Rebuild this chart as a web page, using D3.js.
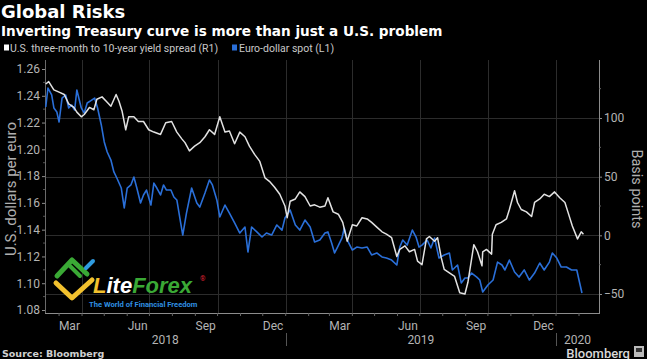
<!DOCTYPE html>
<html><head><meta charset="utf-8">
<script src="https://cdn.jsdelivr.net/npm/d3@7"></script>
<style>
html,body{margin:0;padding:0;background:#000;}
svg{display:block;}
</style></head>
<body>
<script>
// ---------- DATA ----------
const spreadSeries = [["2018-02-11",129],["2018-02-15",131],["2018-02-22",124],["2018-03-01",122],["2018-03-08",120],["2018-03-14",112],["2018-03-21",109],["2018-03-25",105],["2018-03-31",101],["2018-04-04",103],["2018-04-11",109],["2018-04-17",107],["2018-04-21",116],["2018-04-28",118],["2018-05-04",114],["2018-05-10",110],["2018-05-17",120],["2018-05-21",114],["2018-05-25",106],["2018-05-30",90],["2018-06-03",101],["2018-06-10",101],["2018-06-16",97],["2018-06-23",97],["2018-06-30",90],["2018-07-07",88],["2018-07-16",86],["2018-07-23",96],["2018-07-31",97],["2018-08-07",88],["2018-08-14",82],["2018-08-18",79],["2018-08-24",72],["2018-08-31",76],["2018-09-07",79],["2018-09-14",84],["2018-09-20",90],["2018-09-27",86],["2018-10-04",101],["2018-10-11",88],["2018-10-17",89],["2018-10-24",78],["2018-10-31",88],["2018-11-07",84],["2018-11-13",76],["2018-11-20",69],["2018-11-27",63],["2018-12-04",49],["2018-12-10",46],["2018-12-17",41],["2018-12-24",35],["2018-12-31",25],["2019-01-03",15],["2019-01-07",29],["2019-01-14",31],["2019-01-20",37],["2019-01-27",33],["2019-02-03",25],["2019-02-09",26],["2019-02-16",24],["2019-02-23",25],["2019-02-27",32],["2019-03-06",20],["2019-03-13",18],["2019-03-19",11],["2019-03-25",-5],["2019-04-01",9],["2019-04-07",8],["2019-04-14",15],["2019-04-21",14],["2019-04-27",11],["2019-05-04",7],["2019-05-11",3],["2019-05-17",1],["2019-05-24",-2],["2019-05-31",-18],["2019-06-04",-12],["2019-06-11",-9],["2019-06-17",-14],["2019-06-24",-12],["2019-06-28",-22],["2019-07-04",-25],["2019-07-10",-3],["2019-07-14",-1],["2019-07-21",-5],["2019-07-25",-2],["2019-07-30",-19],["2019-08-03",-29],["2019-08-10",-32],["2019-08-17",-35],["2019-08-24",-49],["2019-08-31",-50],["2019-09-04",-40],["2019-09-09",-20],["2019-09-12",-8],["2019-09-17",-14],["2019-09-23",-26],["2019-09-24",-14],["2019-09-29",-12],["2019-10-06",-16],["2019-10-07",1],["2019-10-12",9],["2019-10-19",11],["2019-10-26",14],["2019-10-30",22],["2019-11-06",38],["2019-11-10",28],["2019-11-15",22],["2019-11-22",20],["2019-11-29",16],["2019-12-03",28],["2019-12-10",31],["2019-12-16",35],["2019-12-23",33],["2019-12-30",37],["2020-01-06",32],["2020-01-13",28],["2020-01-17",20],["2020-01-23",8],["2020-01-30",-3],["2020-02-04",3],["2020-02-07",1]];

const eurusdSeries = [["2018-02-11",1.2316],["2018-02-14",1.2458],["2018-02-19",1.2406],["2018-02-22",1.2309],["2018-02-26",1.2279],["2018-03-01",1.2204],["2018-03-05",1.2383],["2018-03-10",1.2406],["2018-03-14",1.2309],["2018-03-18",1.2331],["2018-03-22",1.2294],["2018-03-25",1.2443],["2018-03-31",1.2309],["2018-04-04",1.2271],["2018-04-08",1.2346],["2018-04-14",1.2368],["2018-04-18",1.2383],["2018-04-22",1.2309],["2018-04-27",1.2182],["2018-05-01",1.2055],["2018-05-05",1.1980],["2018-05-10",1.1920],["2018-05-14",1.1831],["2018-05-18",1.1786],["2018-05-24",1.1711],["2018-05-28",1.1562],["2018-06-01",1.1711],["2018-06-06",1.1734],["2018-06-10",1.1793],["2018-06-14",1.1711],["2018-06-19",1.1599],["2018-06-23",1.1659],["2018-06-27",1.1696],["2018-07-03",1.1584],["2018-07-07",1.1748],["2018-07-11",1.1711],["2018-07-16",1.1659],["2018-07-20",1.1734],["2018-07-24",1.1696],["2018-07-30",1.1696],["2018-08-03",1.1644],["2018-08-07",1.1622],["2018-08-12",1.1457],["2018-08-15",1.1360],["2018-08-20",1.1524],["2018-08-27",1.1711],["2018-09-03",1.1599],["2018-09-07",1.1569],["2018-09-14",1.1674],["2018-09-20",1.1771],["2018-09-24",1.1734],["2018-09-30",1.1622],["2018-10-04",1.1495],["2018-10-11",1.1584],["2018-10-17",1.1524],["2018-10-24",1.1450],["2018-10-31",1.1375],["2018-11-07",1.1420],["2018-11-11",1.1233],["2018-11-16",1.1420],["2018-11-23",1.1383],["2018-11-30",1.1345],["2018-12-06",1.1375],["2018-12-13",1.1360],["2018-12-20",1.1435],["2018-12-27",1.1397],["2018-12-31",1.1487],["2019-01-07",1.1547],["2019-01-14",1.1435],["2019-01-20",1.1397],["2019-01-27",1.1472],["2019-02-03",1.1420],["2019-02-09",1.1308],["2019-02-16",1.1323],["2019-02-23",1.1375],["2019-02-27",1.1383],["2019-03-04",1.1300],["2019-03-08",1.1226],["2019-03-12",1.1270],["2019-03-18",1.1338],["2019-03-21",1.1412],["2019-03-25",1.1323],["2019-04-01",1.1248],["2019-04-07",1.1270],["2019-04-14",1.1263],["2019-04-21",1.1270],["2019-04-27",1.1211],["2019-05-04",1.1226],["2019-05-11",1.1196],["2019-05-17",1.1188],["2019-05-24",1.1173],["2019-05-31",1.1136],["2019-06-04",1.1270],["2019-06-08",1.1323],["2019-06-14",1.1285],["2019-06-21",1.1397],["2019-06-26",1.1345],["2019-06-30",1.1270],["2019-07-04",1.1285],["2019-07-11",1.1323],["2019-07-16",1.1263],["2019-07-21",1.1338],["2019-07-27",1.1188],["2019-08-03",1.1211],["2019-08-10",1.1226],["2019-08-14",1.1099],["2019-08-21",1.1136],["2019-08-26",1.1002],["2019-08-31",1.1039],["2019-09-04",1.1039],["2019-09-09",1.1076],["2019-09-16",1.1046],["2019-09-20",1.1024],["2019-09-24",1.0934],["2019-10-01",1.0987],["2019-10-08",1.1024],["2019-10-14",1.1158],["2019-10-20",1.1136],["2019-10-24",1.1099],["2019-10-30",1.1173],["2019-11-06",1.1084],["2019-11-12",1.1046],["2019-11-19",1.1099],["2019-11-26",1.1024],["2019-12-03",1.1076],["2019-12-10",1.1151],["2019-12-16",1.1099],["2019-12-23",1.1158],["2019-12-27",1.1226],["2020-01-02",1.1188],["2020-01-08",1.1121],["2020-01-15",1.1121],["2020-01-22",1.1099],["2020-01-29",1.1099],["2020-02-01",1.1024],["2020-02-05",1.0927]];

const leftTicks = [1.08,1.10,1.12,1.14,1.16,1.18,1.20,1.22,1.24,1.26];
const rightTicks = [-50,0,50,100];
const monthLabels = [["2018-03-15","Mar"],["2018-06-15","Jun"],["2018-09-15","Sep"],["2018-12-15","Dec"],["2019-03-15","Mar"],["2019-06-15","Jun"],["2019-09-15","Sep"],["2019-12-15","Dec"]];
const yearLabels = ["2018","2019","2020"];
const titleText = "Global Risks";
const subtitleText = "Inverting Treasury curve is more than just a U.S. problem";
const legendItems = ["U.S. three-month to 10-year yield spread (R1)","Euro-dollar spot (L1)"];

// ---------- LAYOUT ----------
const W = 647, H = 359;
const L = 45, R = 599, T = 60, B = 313;
const parse = d3.utcParse("%Y-%m-%d");
const x = d3.scaleUtc().domain([parse("2018-02-10"), parse("2020-02-28")]).range([L, R]);
const yL = d3.scaleLinear().domain([1.08, 1.26]).range([310, 69]);
const yR = d3.scaleLinear().domain([-50, 100]).range([294, 118]);

const svg = d3.select("body").append("svg").attr("width", W).attr("height", H)
  .style("background", "#000");
const FONT = "Roboto, 'Liberation Sans', sans-serif";
const BOLD = "'DejaVu Sans', sans-serif";
const tickCol = "#b4b4b4";

// gridlines
const grid = svg.append("g").attr("stroke", "#2c2c2c").attr("stroke-width", 1);
const quarterStarts = d3.utcMonth.every(3).range(parse("2018-04-01"), parse("2020-02-28"));
grid.selectAll("line.v").data(quarterStarts).join("line")
  .attr("x1", d => Math.round(x(d)) + 0.5).attr("x2", d => Math.round(x(d)) + 0.5)
  .attr("y1", T).attr("y2", B);
grid.selectAll("line.h").data(rightTicks).join("line")
  .attr("x1", L).attr("x2", R)
  .attr("y1", d => Math.round(yR(d)) + 0.5).attr("y2", d => Math.round(yR(d)) + 0.5);

// axes frame
const axCol = "#8c8c8c";
svg.append("line").attr("x1", L + 0.5).attr("x2", L + 0.5).attr("y1", T).attr("y2", B).attr("stroke", "#6a6a6a");
svg.append("line").attr("x1", R + 0.5).attr("x2", R + 0.5).attr("y1", T).attr("y2", B).attr("stroke", axCol);
svg.append("line").attr("x1", L).attr("x2", R + 1).attr("y1", B + 0.5).attr("y2", B + 0.5).attr("stroke", axCol);

// left axis
const leftAxis = d3.axisLeft(yL).tickValues(leftTicks).tickFormat(d3.format(".2f")).tickSize(3).tickPadding(2);
const gl = svg.append("g").attr("transform", `translate(${L},0)`).call(leftAxis);
gl.select(".domain").remove();
gl.selectAll("line").attr("stroke", axCol);
gl.selectAll("text").attr("fill", tickCol).style("font-family", FONT).style("font-size", "12px");
svg.append("g").selectAll("line").data(d3.range(1.09, 1.26, 0.02)).join("line")
  .attr("x1", L - 2).attr("x2", L).attr("y1", d => yL(d)).attr("y2", d => yL(d)).attr("stroke", "#555");

// right axis
const rightAxis = d3.axisRight(yR).tickValues(rightTicks).tickSize(3).tickPadding(2);
const gr = svg.append("g").attr("transform", `translate(${R},0)`).call(rightAxis);
gr.select(".domain").remove();
gr.selectAll("line").attr("stroke", axCol);
gr.selectAll("text").attr("fill", tickCol).style("font-family", FONT).style("font-size", "12px");
svg.append("g").selectAll("line").data([-25, 25, 75, 125]).join("line")
  .attr("x1", R).attr("x2", R + 2).attr("y1", d => yR(d)).attr("y2", d => yR(d)).attr("stroke", "#666");

// bottom month ticks
const months = d3.utcMonth.range(parse("2018-03-01"), parse("2020-02-28"));
svg.append("g").selectAll("line").data(months).join("line")
  .attr("x1", d => x(d)).attr("x2", d => x(d)).attr("y1", B).attr("y2", B + 3).attr("stroke", "#666");

// month labels
svg.append("g").selectAll("text").data(monthLabels).join("text")
  .attr("x", d => x(parse(d[0]))).attr("y", 330).attr("text-anchor", "middle")
  .attr("fill", tickCol).style("font-family", FONT).style("font-size", "12px").text(d => d[1]);

// year labels and separators
const yearBounds = [x.domain()[0], parse("2019-01-01"), parse("2020-01-01"), x.domain()[1]];
svg.append("g").selectAll("text").data(yearLabels).join("text")
  .attr("x", (d, i) => (x(yearBounds[i]) + x(yearBounds[i + 1])) / 2).attr("y", 344)
  .attr("text-anchor", "middle").attr("fill", tickCol)
  .style("font-family", FONT).style("font-size", "12px").text(d => d);
svg.append("g").selectAll("line").data([parse("2019-01-01"), parse("2020-01-01")]).join("line")
  .attr("x1", d => Math.round(x(d)) + 0.5).attr("x2", d => Math.round(x(d)) + 0.5)
  .attr("y1", 333).attr("y2", 346).attr("stroke", "#555");

// lines
const lineR = d3.line().x(d => x(parse(d[0]))).y(d => yR(d[1]));
const lineL = d3.line().x(d => x(parse(d[0]))).y(d => yL(d[1]));
svg.append("path").datum(eurusdSeries).attr("d", lineL).attr("fill", "none")
  .attr("stroke", "#2a6fd8").attr("stroke-width", 1.6).attr("stroke-linejoin", "round");
svg.append("path").datum(spreadSeries).attr("d", lineR).attr("fill", "none")
  .attr("stroke", "#e2e2e2").attr("stroke-width", 1.5).attr("stroke-linejoin", "round");

// axis titles
svg.append("text").attr("transform", "translate(16,189) rotate(-90)").attr("text-anchor", "middle")
  .attr("fill", "#b0b0b0").style("font-family", FONT).style("font-size", "15px").text("U.S. dollars per euro");
svg.append("text").attr("transform", "translate(632,189) rotate(90)").attr("text-anchor", "middle")
  .attr("fill", "#b0b0b0").style("font-family", FONT).style("font-size", "14.5px").text("Basis points");

// titles
svg.append("text").attr("x", 1).attr("y", 18).attr("fill", "#fff")
  .style("font-family", BOLD).style("font-weight", "bold").style("font-size", "18px").text(titleText);
svg.append("text").attr("x", 1).attr("y", 36).attr("fill", "#fff")
  .style("font-family", BOLD).style("font-weight", "bold").style("font-size", "13.6px").text(subtitleText);

// legend
svg.append("rect").attr("x", 4).attr("y", 44.5).attr("width", 5).attr("height", 6).attr("fill", "#fff");
svg.append("text").attr("x", 10).attr("y", 51.5).attr("fill", "#c8c8c8")
  .style("font-family", FONT).style("font-size", "10.5px").text(legendItems[0]);
svg.append("rect").attr("x", 232).attr("y", 44.5).attr("width", 5).attr("height", 6).attr("fill", "#2a6fd8");
svg.append("text").attr("x", 239).attr("y", 51.5).attr("fill", "#c8c8c8")
  .style("font-family", FONT).style("font-size", "10.5px").text(legendItems[1]);

// footer
svg.append("text").attr("x", 2).attr("y", 357).attr("fill", "#d0d0d0")
  .style("font-family", BOLD).style("font-weight", "bold").style("font-size", "9.5px").text("Source: Bloomberg");
svg.append("text").attr("x", 630).attr("y", 357.5).attr("text-anchor", "end").attr("fill", "#d8d8d8")
  .style("font-family", FONT).style("font-weight", "500").style("font-size", "13px").text("Bloomberg");
svg.append("rect").attr("x", 634).attr("y", 346).attr("width", 10).attr("height", 11).attr("fill", "#bbb");
svg.append("rect").attr("x", 636).attr("y", 348).attr("width", 6).attr("height", 4).attr("fill", "#333");

// watermark
const wm = svg.append("g");
wm.append("path").attr("d", "M57,276 L72,260 L87,274").attr("fill", "none").attr("stroke", "#3aa935").attr("stroke-width", 5).attr("stroke-linecap", "round").attr("stroke-linejoin", "round");
wm.append("path").attr("d", "M70,266 L80,276").attr("fill", "none").attr("stroke", "#3aa935").attr("stroke-width", 4).attr("stroke-linecap", "round");
wm.append("path").attr("d", "M86,268 L93,261").attr("fill", "none").attr("stroke", "#2f9be0").attr("stroke-width", 4).attr("stroke-linecap", "round");
wm.append("path").attr("d", "M56,283 L72,298 L92,280").attr("fill", "none").attr("stroke", "#f2c12e").attr("stroke-width", 5).attr("stroke-linecap", "round").attr("stroke-linejoin", "round");
const wt = wm.append("text").attr("x", 93).attr("y", 293).style("font-family", "'Liberation Sans', Arial, sans-serif")
  .style("font-weight", "bold").style("font-style", "italic").style("font-size", "22px");
wt.append("tspan").attr("fill", "#f2c12e").text("L");
wt.append("tspan").attr("fill", "#ffffff").text("ite");
wt.append("tspan").attr("fill", "#3aa935").text("Forex");
wm.append("text").attr("x", 200).attr("y", 281).attr("fill", "#d23").style("font-family", FONT).style("font-size", "7px").text("®");
wm.append("text").attr("x", 89).attr("y", 307).attr("fill", "#2f8fe0").style("font-family", FONT)
  .style("font-weight", "bold").style("font-size", "7.6px").text("The World of Financial Freedom");
</script>
</body></html>
